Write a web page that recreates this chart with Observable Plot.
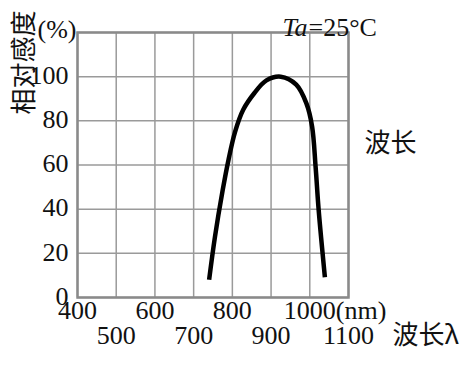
<!DOCTYPE html>
<html>
<head>
<meta charset="utf-8">
<script src="https://cdn.jsdelivr.net/npm/d3@7"></script>
<script src="https://cdn.jsdelivr.net/npm/@observablehq/plot@0.6"></script>
<style>
  html, body { margin: 0; padding: 0; background: #fff; }
</style>
</head>
<body>
<div id="chart"></div>
<script>
// Data
const wavelength = [740, 755, 775, 790, 807, 828, 857, 888, 925, 965, 991, 1006, 1015, 1023, 1039];
const sensitivity = [8, 27.4, 48.6, 62.3, 75, 85, 92.6, 98.3, 100, 96.4, 88, 77.4, 59.2, 39.5, 9.2];

const xGrid = [400, 500, 600, 700, 800, 900, 1000, 1100];
const xTicksTop = [400, 600, 800, 1000];
const xTicksBottom = [500, 700, 900, 1100];
const yGrid = [0, 20, 40, 60, 80, 100, 120];
const yTicks = [0, 20, 40, 60, 80, 100];

const yLabel = "相对感度";
const yUnit = "(%)";
const condItalic = "Ta";
const condRest = "=25°C";
const sideLabel = "波长";
const xLabel = "波长λ";
const xUnit = "(nm)";

const curve = wavelength.map((w, i) => ({w, s: sensitivity[i]}));

const serif = "'Liberation Serif', 'DejaVu Serif', serif";
const cjk = "'Noto Sans CJK SC', sans-serif";

const chart = Plot.plot({
  width: 466,
  height: 370,
  marginLeft: 77,
  marginRight: 118,
  marginTop: 32,
  marginBottom: 73,
  x: {domain: [400, 1100], axis: null},
  y: {domain: [0, 120], axis: null},
  style: {background: "#fff", overflow: "visible"},
  marks: [
    Plot.gridX(xGrid, {stroke: "#9a9a9a", strokeOpacity: 1, strokeWidth: 1.5}),
    Plot.gridY(yGrid, {stroke: "#9a9a9a", strokeOpacity: 1, strokeWidth: 1.5}),
    Plot.frame({stroke: "#8a8a8a", strokeWidth: 2.5}),
    Plot.line(curve, {x: "w", y: "s", curve: "catmull-rom", stroke: "#000", strokeWidth: 4.5, strokeLinecap: "butt"}),
    // y tick labels
    Plot.text(yTicks, {y: d => d, text: d => String(d), frameAnchor: "left", dx: -9, dy: -1, textAnchor: "end",
      fontSize: 26, fontFamily: serif, fill: "#111"}),
    // x tick labels, two rows
    Plot.text(xTicksTop, {x: d => d, text: d => String(d), frameAnchor: "bottom", dy: 21,
      fontSize: 26, fontFamily: serif, fill: "#111"}),
    Plot.text(xTicksBottom, {x: d => d, text: d => String(d), frameAnchor: "bottom", dy: 46,
      fontSize: 26, fontFamily: serif, fill: "#111"}),
    Plot.text([1000], {x: d => d, text: () => xUnit, frameAnchor: "bottom", dy: 21, dx: 26, textAnchor: "start",
      fontSize: 26, fontFamily: serif, fill: "#111"}),
    // x label
    Plot.text([xLabel], {frameAnchor: "bottom-right", dx: 44, dy: 46, textAnchor: "start",
      fontSize: 26, fontFamily: cjk, fill: "#111"}),
    // side label
    Plot.text([sideLabel], {frameAnchor: "right", dx: 42, dy: -21, textAnchor: "middle",
      fontSize: 26, fontFamily: cjk, fill: "#111"}),
    // y label (rotated) and unit
    Plot.text([yLabel], {frameAnchor: "top-left", dx: -63, dy: -22, rotate: -90, textAnchor: "end",
      fontSize: 26, fontFamily: cjk, fill: "#111"}),
    Plot.text([yUnit], {frameAnchor: "top-left", dx: -40, dy: -13, textAnchor: "start",
      fontSize: 26, fontFamily: serif, fill: "#111"}),
    // condition
    Plot.text([condItalic], {frameAnchor: "top-right", dx: -41, dy: -15, textAnchor: "end",
      fontSize: 26, fontFamily: serif, fontStyle: "italic", fill: "#111"}),
    Plot.text([condRest], {frameAnchor: "top-right", dx: -40, dy: -15, textAnchor: "start",
      fontSize: 26, fontFamily: serif, fill: "#111"})
  ]
});
document.getElementById("chart").appendChild(chart);
</script>
</body>
</html>
